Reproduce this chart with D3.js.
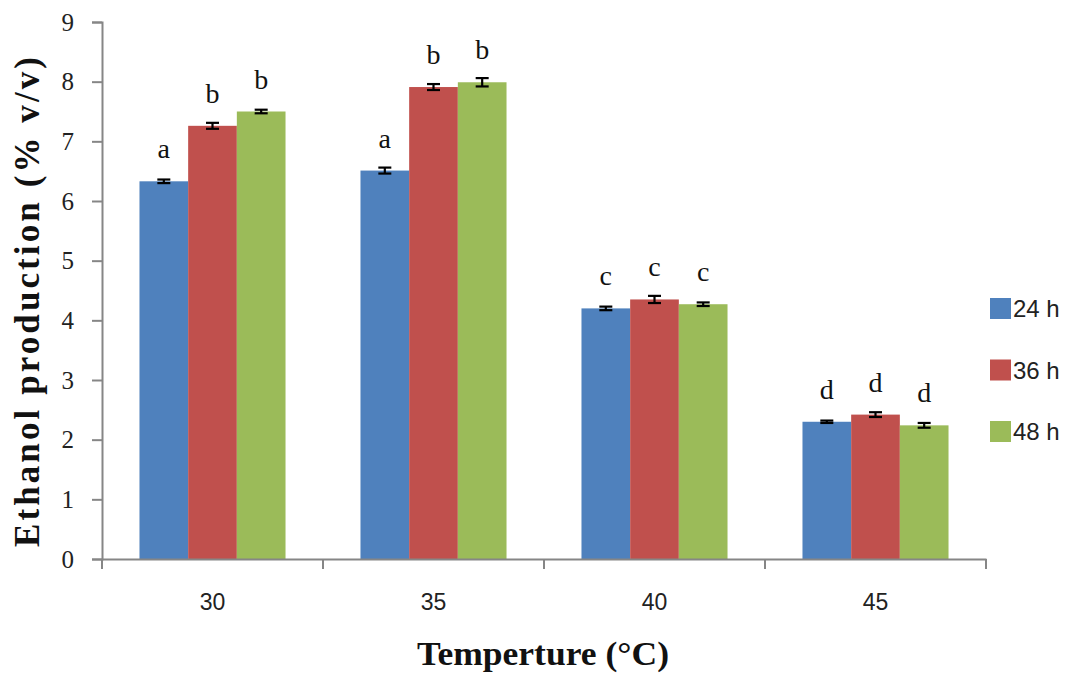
<!DOCTYPE html>
<html>
<head>
<meta charset="utf-8">
<script src="https://cdn.jsdelivr.net/npm/d3@7"></script>
<style>
  body { margin: 0; background: #fff; }
  svg { display: block; }
</style>
</head>
<body>
<div id="chart"></div>
<script>
// data
var temps = ["30", "35", "40", "45"];
var series = ["24 h", "36 h", "48 h"];
var v24 = [6.33, 6.51, 4.20, 2.30];
var v36 = [7.26, 7.91, 4.35, 2.42];
var v48 = [7.50, 7.99, 4.27, 2.24];
var e24 = [0.03, 0.05, 0.03, 0.02];
var e36 = [0.05, 0.05, 0.06, 0.04];
var e48 = [0.03, 0.07, 0.03, 0.04];
var l24 = ["a", "a", "c", "d"];
var l36 = ["b", "b", "c", "d"];
var l48 = ["b", "b", "c", "d"];
var yTicks = [0, 1, 2, 3, 4, 5, 6, 7, 8, 9];
var colors = ["#4f81bd", "#c0504d", "#9bbb59"];

var W = 1072, H = 675;
var margin = {left: 102, right: 86, top: 22, bottom: 116};

var svg = d3.select("#chart").append("svg").attr("width", W).attr("height", H);

var x = d3.scaleBand().domain(temps).range([margin.left, W - margin.right]).padding(0);
var x1 = d3.scaleBand().domain(series).range([0, x.bandwidth()]).paddingInner(0).paddingOuter(0.77);
var y = d3.scaleLinear().domain([0, 9]).range([H - margin.bottom, margin.top]);

var vals = [v24, v36, v48], errs = [e24, e36, e48], lets = [l24, l36, l48];

// flatten into records
var recs = [];
temps.forEach(function(t, i) {
    series.forEach(function(s, j) {
        recs.push({t: t, s: s, j: j, v: vals[j][i], e: errs[j][i], l: lets[j][i]});
    });
});

// bars
svg.append("g").selectAll("rect").data(recs).enter().append("rect")
    .attr("x", function(d) { return x(d.t) + x1(d.s); })
    .attr("width", x1.bandwidth())
    .attr("y", function(d) { return y(d.v); })
    .attr("height", function(d) { return y(0) - y(d.v); })
    .attr("fill", function(d) { return colors[d.j]; });

// error bars
var eb = svg.append("g").attr("stroke", "#000").attr("stroke-width", 2.2);
recs.forEach(function(d) {
    var cx = x(d.t) + x1(d.s) + x1.bandwidth() / 2;
    eb.append("line").attr("x1", cx).attr("x2", cx).attr("y1", y(d.v + d.e)).attr("y2", y(d.v - d.e));
    eb.append("line").attr("x1", cx - 6.5).attr("x2", cx + 6.5).attr("y1", y(d.v + d.e)).attr("y2", y(d.v + d.e));
    eb.append("line").attr("x1", cx - 6.5).attr("x2", cx + 6.5).attr("y1", y(d.v - d.e)).attr("y2", y(d.v - d.e));
});

// significance letters
svg.append("g").selectAll("text").data(recs).enter().append("text")
    .attr("x", function(d) { return x(d.t) + x1(d.s) + x1.bandwidth() / 2; })
    .attr("y", function(d) { return y(d.v) - 23; })
    .attr("text-anchor", "middle")
    .attr("font-family", "Liberation Serif, serif")
    .attr("font-size", "28px")
    .attr("fill", "#111")
    .text(function(d) { return d.l; });

// y axis
var yAxis = svg.append("g").attr("transform", "translate(" + margin.left + ",0)")
    .call(d3.axisLeft(y).tickValues(yTicks).tickSize(10).tickPadding(18));
yAxis.attr("font-family", null).attr("font-size", null);
yAxis.selectAll("text").attr("font-family", "Liberation Serif, serif").attr("font-size", "25px").attr("fill", "#222");

// x axis
var xAxis = svg.append("g").attr("transform", "translate(0," + y(0) + ")")
    .call(d3.axisBottom(x).tickSize(0).tickPadding(35));
xAxis.attr("font-family", null).attr("font-size", null);
xAxis.selectAll("text").attr("font-family", "Liberation Sans, sans-serif").attr("font-size", "23px").attr("fill", "#222");
// tick marks at band boundaries
var bounds = temps.map(function(t) { return x(t); }).concat([x.range()[1]]);
xAxis.selectAll(".bnd").data(bounds).enter().append("line").attr("class", "bnd")
    .attr("x1", function(d) { return d; }).attr("x2", function(d) { return d; })
    .attr("y1", 0).attr("y2", 10);

svg.selectAll(".domain, .tick line, .bnd").attr("stroke", "#868686").attr("stroke-width", 2);

// axis titles
svg.append("text")
    .attr("transform", "translate(39," + 302 + ") rotate(-90)")
    .attr("text-anchor", "middle")
    .attr("font-family", "Liberation Serif, serif")
    .attr("font-weight", "bold")
    .attr("font-size", "35px")
    .attr("textLength", 490)
    .attr("lengthAdjust", "spacing")
    .attr("fill", "#111")
    .text("Ethanol production  (% v/v)");

svg.append("text")
    .attr("x", 543).attr("y", 665)
    .attr("text-anchor", "middle")
    .attr("font-family", "Liberation Serif, serif")
    .attr("font-weight", "bold")
    .attr("font-size", "34px")
    .attr("textLength", 252)
    .attr("lengthAdjust", "spacingAndGlyphs")
    .attr("fill", "#111")
    .text("Temperture (°C)");

// legend
var leg = svg.append("g").attr("transform", "translate(990,298)");
var li = leg.selectAll("g").data(series).enter().append("g")
    .attr("transform", function(d, i) { return "translate(0," + (i * 61.5) + ")"; });
li.append("rect").attr("width", 21).attr("height", 21).attr("fill", function(d, i) { return colors[i]; });
li.append("text").attr("x", 23).attr("y", 19)
    .attr("font-family", "Liberation Sans, sans-serif")
    .attr("font-size", "24px")
    .attr("fill", "#222")
    .text(function(d) { return d; });
</script>
</body>
</html>
